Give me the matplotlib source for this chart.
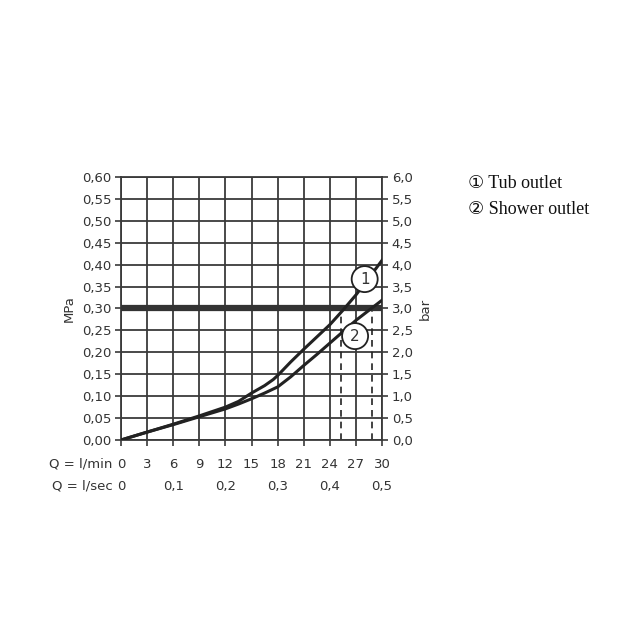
import matplotlib
matplotlib.use("Agg")
import matplotlib.pyplot as plt

# flow in l/min and pressure in MPa
tub_flow = [0, 3, 6, 9, 12, 13.5, 15, 16.5, 17.5, 18, 19.5, 21, 22.5, 24, 25.5, 27, 28.5, 30]
tub_outlet = [0.0, 0.018, 0.036, 0.055, 0.075, 0.088, 0.107, 0.124, 0.138, 0.147,
              0.178, 0.207, 0.235, 0.263, 0.296, 0.331, 0.370, 0.410]
shower_flow = [0, 3, 6, 9, 12, 13.5, 15, 16.5, 18, 19.5, 21, 22.5, 24, 25.5, 27, 28.5, 30]
shower_outlet = [0.0, 0.018, 0.035, 0.053, 0.071, 0.082, 0.094, 0.107, 0.121, 0.144,
                 0.170, 0.195, 0.221, 0.247, 0.273, 0.296, 0.319]

operating_pressure = 0.30
tub_q_at_3bar = 25.3
shower_q_at_3bar = 28.8

mpa_ticks = [0.00, 0.05, 0.10, 0.15, 0.20, 0.25, 0.30, 0.35, 0.40, 0.45, 0.50, 0.55, 0.60]
mpa_labels = ["0,00", "0,05", "0,10", "0,15", "0,20", "0,25", "0,30",
              "0,35", "0,40", "0,45", "0,50", "0,55", "0,60"]
bar_labels = ["0,0", "0,5", "1,0", "1,5", "2,0", "2,5", "3,0",
              "3,5", "4,0", "4,5", "5,0", "5,5", "6,0"]
lmin_ticks = [0, 3, 6, 9, 12, 15, 18, 21, 24, 27, 30]
lsec_ticks = [0, 6, 12, 18, 24, 30]
lsec_labels = ["0", "0,1", "0,2", "0,3", "0,4", "0,5"]

ink = "#222222"
grid_c = "#3a3a3a"
txt_c = "#333333"

fig = plt.figure(figsize=(6.4, 6.4), dpi=100)
ax = fig.add_axes([0.189, 0.3125, 0.408, 0.411])
ax.set_xlim(0, 30)
ax.set_ylim(0, 0.60)

for x in lmin_ticks:
    ax.axvline(x, color=grid_c, lw=1.3, zorder=1)
for y in mpa_ticks:
    ax.axhline(y, color=grid_c, lw=1.3, zorder=1)
for s in ax.spines.values():
    s.set_color(grid_c)
    s.set_linewidth(1.3)

ax.axhline(operating_pressure, color="#333333", lw=4.5, zorder=3)

ax.plot(tub_flow, tub_outlet, color=ink, lw=2.2, zorder=4, solid_joinstyle="round")
ax.plot(shower_flow, shower_outlet, color=ink, lw=2.2, zorder=4, solid_joinstyle="round")

for q in (tub_q_at_3bar, shower_q_at_3bar):
    ax.plot([q, q], [0, operating_pressure], color=ink, lw=1.2, ls=(0, (4, 3)), zorder=2)

# numbered markers on the curves
for q, p, num in ((28.0, 0.367, "1"), (26.9, 0.237, "2")):
    ax.annotate(num, (q, p), ha="center", va="center", fontsize=11, color=txt_c, zorder=6,
                bbox=dict(boxstyle="circle,pad=0.36", fc="white", ec=ink, lw=1.3))

ax.set_yticks(mpa_ticks)
ax.set_yticklabels(mpa_labels, fontsize=9.5, color=txt_c)
ax.set_xticks(lmin_ticks)
ax.set_xticklabels([str(v) for v in lmin_ticks], fontsize=9.5, color=txt_c)
ax.tick_params(axis="both", length=4, width=1.2, color=grid_c, pad=3)
ax.tick_params(axis="x", length=4, pad=9)
ax.set_ylabel("MPa", fontsize=9.5, color=txt_c, labelpad=4)

ax2 = ax.twinx()
ax2.set_ylim(0, 6.0)
ax2.set_yticks([v * 10 for v in mpa_ticks])
ax2.set_yticklabels(bar_labels, fontsize=9.5, color=txt_c)
ax2.tick_params(axis="y", length=4, width=1.2, color=grid_c, pad=3)
ax2.set_ylabel("bar", fontsize=9.5, color=txt_c, labelpad=4)
for s in ax2.spines.values():
    s.set_visible(False)

trans = ax.get_xaxis_transform()
ax.text(-0.032, -0.09, "Q = l/min", transform=ax.transAxes, ha="right", va="center",
        fontsize=9.5, color=txt_c)
ax.text(-0.032, -0.175, "Q = l/sec", transform=ax.transAxes, ha="right", va="center",
        fontsize=9.5, color=txt_c)
for q, lab in zip(lsec_ticks, lsec_labels):
    ax.text(q, -0.175, lab, transform=trans, ha="center", va="center",
            fontsize=9.5, color=txt_c)

fam = ["Liberation Serif", "DejaVu Sans"]
fig.text(0.731, 0.713, "\u2460 Tub outlet", fontsize=13, family=fam, color="#111111", va="center")
fig.text(0.731, 0.673, "\u2461 Shower outlet", fontsize=13, family=fam, color="#111111", va="center")

fig.savefig("out.png", dpi=100)
